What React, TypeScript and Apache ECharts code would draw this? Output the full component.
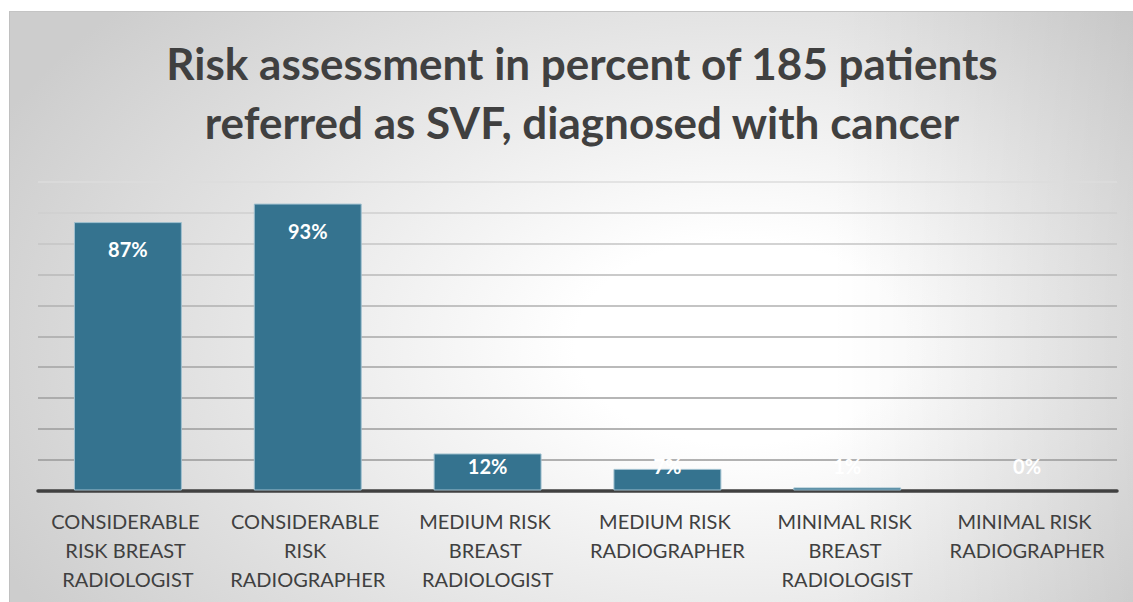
import React, { useEffect, useRef } from "react";
import * as echarts from "echarts";

const titleLines = [
  "Risk assessment in percent of 185 patients",
  "referred as SVF, diagnosed with cancer",
];
const categories = [
  "CONSIDERABLE RISK BREAST RADIOLOGIST",
  "CONSIDERABLE RISK RADIOGRAPHER",
  "MEDIUM RISK BREAST RADIOLOGIST",
  "MEDIUM RISK RADIOGRAPHER",
  "MINIMAL RISK BREAST RADIOLOGIST",
  "MINIMAL RISK RADIOGRAPHER",
];
const values = [87, 93, 12, 7, 1, 0];
const yMin = 0;
const yMax = 100;
const yStep = 10;

const gridColors = [
  "#999999",
  "#999999",
  "#9b9b9b",
  "#9e9e9e",
  "#a3a3a3",
  "#a9a9a9",
  "#b0b0b0",
  "#b9b9b9",
  "#c4c4c4",
  "#cfcfcf",
  "#dcdcdc",
];

export default function App() {
  const ref = useRef<HTMLDivElement>(null);
  useEffect(() => {
    if (!ref.current) return;
    const chart = echarts.init(ref.current, undefined, { renderer: "svg" });
    const fontFamily = "Lato, 'Open Sans', sans-serif";
    chart.setOption({
      animation: false,
      title: {
        text: titleLines.join("\n"),
        left: 577,
        top: 28,
        textAlign: "center",
        textStyle: {
          fontFamily,
          fontSize: 44,
          fontWeight: "bold",
          color: "#404040",
          lineHeight: 59,
        },
      },
      grid: { left: 38, right: 16, top: 182, bottom: 111.5, containLabel: false },
      xAxis: {
        type: "category",
        data: categories,
        axisTick: { show: false },
        axisLine: { lineStyle: { color: "#404040", width: 3.5 } },
        axisLabel: {
          interval: 0,
          width: 175,
          overflow: "break",
          fontFamily,
          fontSize: 20,
          lineHeight: 29,
          color: "#404040",
          margin: 16,
        },
      },
      yAxis: {
        type: "value",
        min: yMin,
        max: yMax,
        interval: yStep,
        axisLabel: { show: false },
        axisLine: { show: false },
        axisTick: { show: false },
        splitLine: { lineStyle: { color: gridColors, width: 1.6 } },
      },
      series: [
        {
          type: "bar",
          barWidth: "60%",
          data: values.map((v) => ({
            value: v,
            itemStyle: v === 0 ? { borderWidth: 0 } : undefined,
            label:
              v < 15
                ? { position: "insideBottom", distance: 15 }
                : { position: "insideTop", distance: 17 },
          })),
          itemStyle: { color: "#35738f", borderColor: "#9fc0cf", borderWidth: 1 },
          label: {
            show: true,
            formatter: "{c}%",
            color: "#ffffff",
            fontFamily,
            fontSize: 20,
            fontWeight: "bold",
          },
        },
      ],
    });
    return () => chart.dispose();
  }, []);
  return (
    <div style={{ position: "absolute", left: 0, top: 0, width: 1133, height: 602, background: "#ffffff", overflow: "hidden" }}>
      <div
        style={{
          position: "absolute",
          left: 9,
          top: 11,
          width: 1140,
          height: 600,
          borderTop: "1px solid #c4c4c4",
          borderLeft: "1px solid #c0c0c0",
          background:
            "linear-gradient(to right, rgba(0,0,0,0) 72%, rgba(0,0,0,0.09) 100%), radial-gradient(ellipse 72% 85% at 64% 55%, #ffffff 0%, #ffffff 20%, #cdcdcd 100%)",
        }}
      />
      <div ref={ref} style={{ position: "absolute", left: 0, top: 0, width: 1133, height: 602 }} />
    </div>
  );
}
